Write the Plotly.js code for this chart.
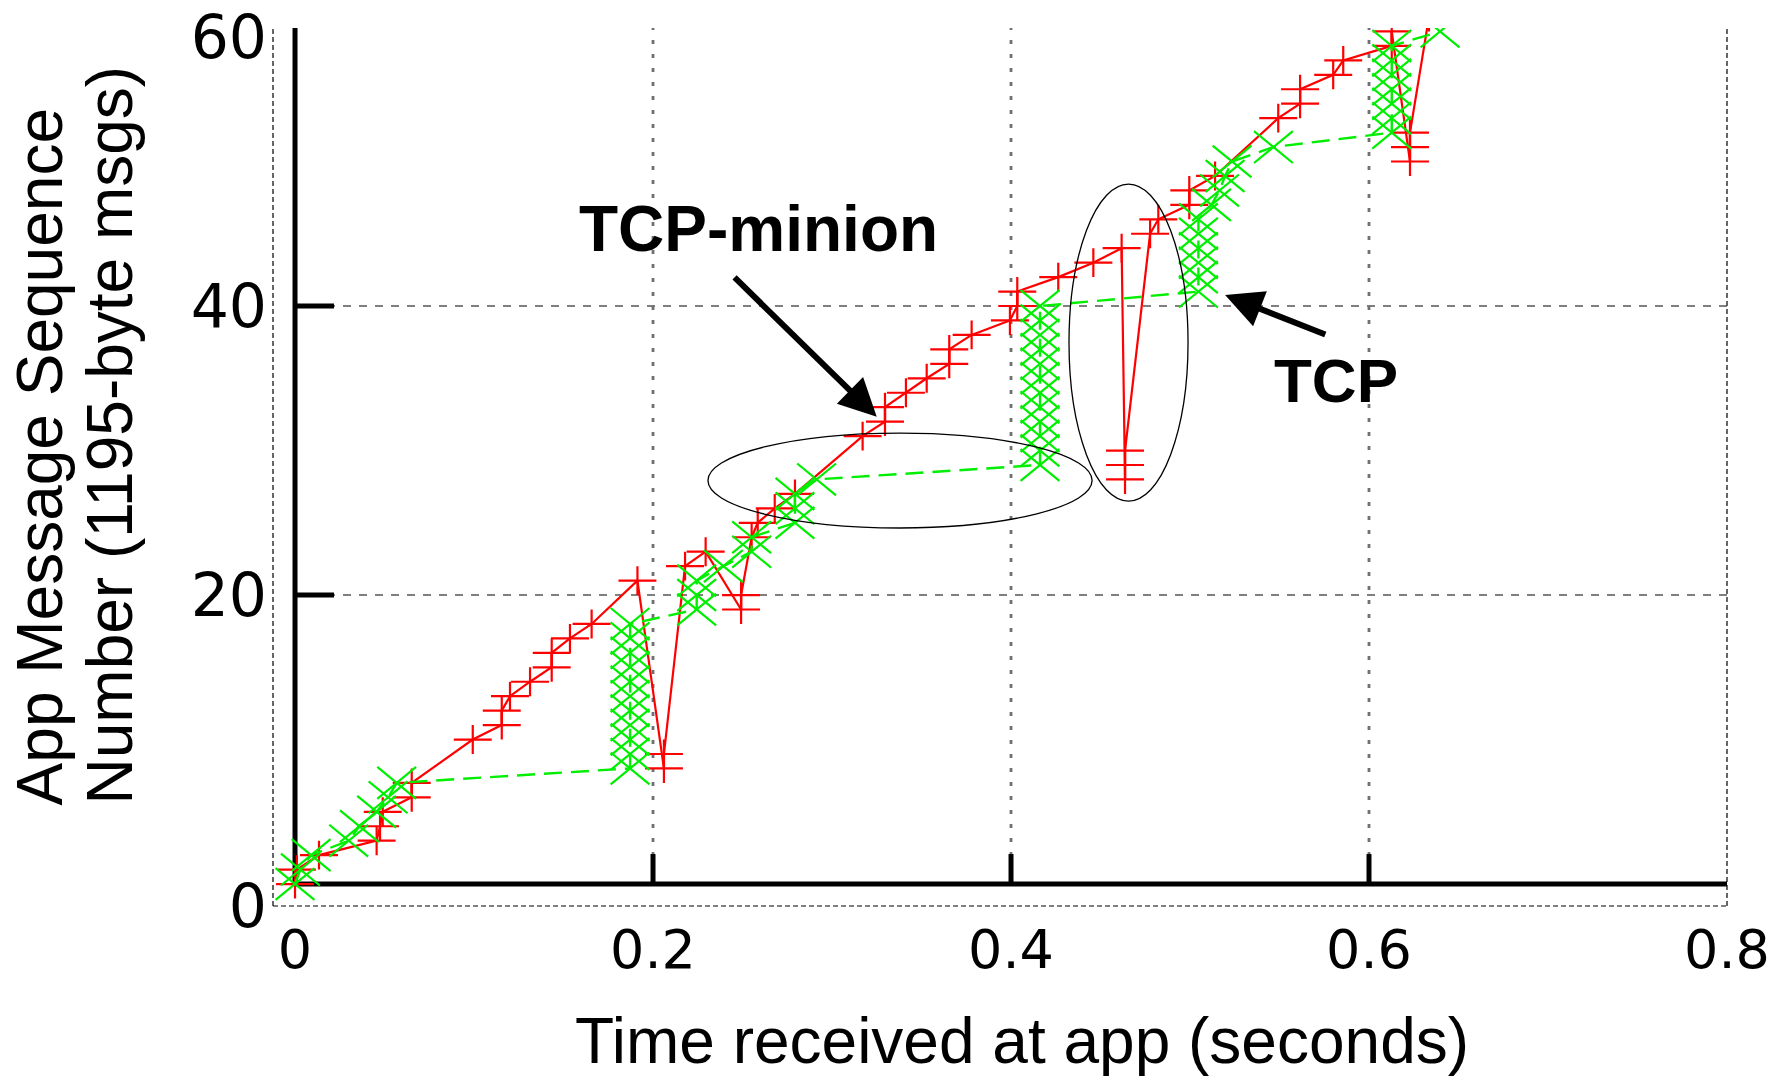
<!DOCTYPE html>
<html>
<head>
<meta charset="utf-8">
<script src="https://cdn.plot.ly/plotly-3.0.1.min.js"></script>
<style>
html,body{margin:0;padding:0;background:#fff;}
#chart{width:1782px;height:1078px;}
</style>
</head>
<body>
<div id="chart"></div>
<script>
// ---- data ----
// TCP-minion (red, +): time received at app (s) and message sequence number, in arrival order
const minionTime = [0.000, 0.001, 0.0134, 0.0456, 0.0475, 0.049, 0.0652, 0.0652, 0.0993, 0.1155, 0.1155, 0.1201, 0.1313, 0.1434, 0.1434, 0.1536, 0.1657, 0.1913, 0.2061, 0.2061, 0.2179, 0.2294, 0.2492, 0.2492, 0.2551, 0.2585, 0.268, 0.2793, 0.3171, 0.3296, 0.3296, 0.3413, 0.3529, 0.3655, 0.3655, 0.378, 0.3994, 0.4035, 0.4035, 0.4264, 0.446, 0.4618, 0.4637, 0.4637, 0.4637, 0.4777, 0.4823, 0.4996, 0.4996, 0.514, 0.5493, 0.5615, 0.5615, 0.58, 0.5856, 0.6127, 0.6127, 0.6229, 0.6229, 0.6229, 0.6335];
const minionSeq  = [0, 1, 2, 3, 4, 5, 6, 7, 10, 11, 12, 13, 14, 15, 16, 17, 18, 21, 8, 9, 22, 23, 19, 20, 24, 25, 26, 27, 31, 32, 33, 34, 35, 36, 37, 38, 39, 40, 41, 42, 43, 44, 28, 29, 30, 45, 46, 47, 48, 49, 53, 54, 55, 56, 57, 58, 59, 50, 51, 52, 60];

// TCP (green, x): time received at app (s) and message sequence number
const tcpTime = [0.000, 0.003, 0.009, 0.030, 0.036, 0.0456, 0.052, 0.0568,
  0.1872, 0.1872, 0.1872, 0.1872, 0.1872, 0.1872, 0.1872, 0.1872, 0.1872, 0.1872, 0.1872,
  0.2244, 0.2244, 0.2244, 0.2393, 0.2551, 0.2551, 0.2793, 0.2793, 0.2793, 0.2914,
  0.4162, 0.4162, 0.4162, 0.4162, 0.4162, 0.4162, 0.4162, 0.4162, 0.4162, 0.4162, 0.4162, 0.4162,
  0.5047, 0.5047, 0.5047, 0.5047, 0.5047, 0.5047, 0.512, 0.5165, 0.5196, 0.5235, 0.5466,
  0.6127, 0.6127, 0.6127, 0.6127, 0.6127, 0.6127, 0.6127, 0.6397];
const tcpSeq = [0, 1, 2, 3, 4, 5, 6, 7,
  8, 9, 10, 11, 12, 13, 14, 15, 16, 17, 18,
  19, 20, 21, 22, 23, 24, 25, 26, 27, 28,
  29, 30, 31, 32, 33, 34, 35, 36, 37, 38, 39, 40,
  41, 42, 43, 44, 45, 46, 47, 48, 49, 50, 51,
  52, 53, 54, 55, 56, 57, 58, 59];

// axes
const xTickVals   = [0, 0.2, 0.4, 0.6, 0.8];
const xTickLabels = ['0', '0.2', '0.4', '0.6', '0.8'];
const yTickLabels = ['0', '20', '40', '60'];
const xGridVals   = [0.2, 0.4, 0.6];
const yGridVals   = [20, 40];
const xRange = [-0.0123, 0.8];
const yRange = [-1.52, 59.24];

// annotation texts
const seriesNames = ['TCP-minion', 'TCP'];
const xTitle = 'Time received at app (seconds)';
const yTitleLines = ['App Message Sequence', 'Number (1195-byte msgs)'];

// ---- figure ----
const RED = '#ff0000';
const GREEN = '#00ee00';
const FONT = 'Liberation Sans, Arial, Helvetica, sans-serif';
const XTICKFONT = {family: 'DejaVu Sans, Liberation Sans, sans-serif', size: 54, color: '#000'};
const YTICKFONT = {family: 'DejaVu Sans, Liberation Sans, sans-serif', size: 60, color: '#000'};

const data = [
  {
    type: 'scatter', mode: 'lines+markers', name: seriesNames[0],
    x: minionTime, y: minionSeq,
    line: {color: RED, width: 2.2},
    marker: {symbol: 'cross-thin-open', size: 24, color: RED, line: {color: RED, width: 2.2}}
  },
  {
    type: 'scatter', mode: 'lines+markers', name: seriesNames[1],
    x: tcpTime, y: tcpSeq,
    line: {color: GREEN, width: 2.4, dash: '18px,9px'},
    marker: {symbol: 'x-thin-open', size: 35, color: GREEN, line: {color: GREEN, width: 2.2}}
  }
];

const shapes = [];
// dashed outer frame (left, bottom, right)
const frameLine = {color: '#000', width: 1.2, dash: '5px,3px'};
shapes.push({type: 'line', xref: 'paper', yref: 'paper', x0: 0, x1: 0, y0: 0, y1: 1, line: frameLine, layer: 'below'});
shapes.push({type: 'line', xref: 'paper', yref: 'paper', x0: 0, x1: 1, y0: 0, y1: 0, line: frameLine, layer: 'below'});
shapes.push({type: 'line', xref: 'paper', yref: 'paper', x0: 1, x1: 1, y0: 0, y1: 1, line: frameLine, layer: 'below'});
// grid
yGridVals.forEach(v => shapes.push({type: 'line', xref: 'x', yref: 'y', x0: 0, x1: xRange[1], y0: v, y1: v,
  line: {color: '#555', width: 1.6, dash: '8px,8px'}, layer: 'below'}));
xGridVals.forEach(v => shapes.push({type: 'line', xref: 'x', yref: 'y', x0: v, x1: v, y0: 0, y1: yRange[1],
  line: {color: '#707070', width: 2.8, dash: '4px,10px'}, layer: 'below'}));
// thick black axes through the origin
shapes.push({type: 'line', xref: 'x', yref: 'y', x0: 0, x1: 0, y0: 0, y1: yRange[1], line: {color: '#000', width: 5}, layer: 'below'});
shapes.push({type: 'line', xref: 'x', yref: 'y', x0: 0, x1: xRange[1], y0: 0, y1: 0, line: {color: '#000', width: 5}, layer: 'below'});
// tick marks
yGridVals.forEach(v => shapes.push({type: 'line', xref: 'x', yref: 'y', xsizemode: 'pixel', xanchor: 0, x0: 0, x1: 39, y0: v, y1: v,
  line: {color: '#000', width: 5}, layer: 'below'}));
xGridVals.forEach(v => shapes.push({type: 'line', xref: 'x', yref: 'y', ysizemode: 'pixel', yanchor: 0, y0: 0, y1: 30, x0: v, x1: v,
  line: {color: '#000', width: 5}, layer: 'below'}));
// highlight ellipses
shapes.push({type: 'circle', xref: 'x', yref: 'y', x0: 0.2307, x1: 0.4453, y0: 24.64, y1: 31.21, line: {color: '#000', width: 1.3}, layer: 'above'});
shapes.push({type: 'circle', xref: 'x', yref: 'y', x0: 0.4324, x1: 0.4989, y0: 26.5, y1: 48.44, line: {color: '#000', width: 1.3}, layer: 'above'});

const labelFont = {family: FONT, size: 64, color: '#000', weight: 700};
const annotations = [
  {xref: 'x', yref: 'y', x: 0.2587, y: 45.3, text: seriesNames[0], showarrow: false, font: labelFont, xanchor: 'center', yanchor: 'middle'},
  {xref: 'x', yref: 'y', x: 0.5816, y: 34.85, text: seriesNames[1], showarrow: false, font: {family: FONT, size: 62, color: '#000', weight: 700}, xanchor: 'center', yanchor: 'middle'},
  {xref: 'x', yref: 'y', x: 0.325, y: 32.34, text: '', showarrow: true, ax: -143.7, ay: -140.7,
   arrowhead: 2, arrowsize: 1.25, arrowwidth: 6, arrowcolor: '#000', standoff: 0},
  {xref: 'x', yref: 'y', x: 0.5196, y: 40.76, text: '', showarrow: true, ax: 101.7, ay: 40,
   arrowhead: 2, arrowsize: 1.25, arrowwidth: 6, arrowcolor: '#000', standoff: 0},
  {xref: 'paper', yref: 'paper', x: 0.5151, y: -0.1535, text: xTitle, showarrow: false,
   font: {family: FONT, size: 64, color: '#000'}, xanchor: 'center', yanchor: 'middle'},
  {xref: 'paper', yref: 'paper', x: -0.1596, y: 0.1128, text: yTitleLines[0], showarrow: false, textangle: -90,
   font: {family: FONT, size: 64, color: '#000'}, xanchor: 'center', yanchor: 'bottom'},
  {xref: 'paper', yref: 'paper', x: -0.1121, y: 0.1128, text: yTitleLines[1], showarrow: false, textangle: -90,
   font: {family: FONT, size: 64, color: '#000'}, xanchor: 'center', yanchor: 'bottom'}
];

const layout = {
  width: 1782, height: 1078,
  margin: {l: 273, r: 55, t: 28, b: 172, pad: 0},
  paper_bgcolor: '#ffffff', plot_bgcolor: '#ffffff',
  showlegend: false,
  font: {family: FONT, color: '#000'},
  xaxis: {range: xRange, tickmode: 'array', tickvals: xTickVals, ticktext: xTickLabels, ticklabeloverflow: 'allow',
          showgrid: false, zeroline: false, showline: false, ticks: '', ticklabelstandoff: 7, tickfont: XTICKFONT},
  yaxis: {range: yRange, tickmode: 'array', tickvals: [yRange[0] + 0.02, 20, 40, yRange[1] - 0.6], ticktext: yTickLabels, ticklabeloverflow: 'allow',
          showgrid: false, zeroline: false, showline: false, ticks: '', ticklabelstandoff: 5, tickfont: YTICKFONT},
  shapes: shapes,
  annotations: annotations
};

// markers in the reference are drawn slightly wider than tall
const markerStretch = [[1.13, 0.86], [1.11, 0.91]];

Plotly.newPlot('chart', data, layout, {staticPlot: true, displayModeBar: false}).then(gd => {
  gd.querySelectorAll('.scatterlayer .trace').forEach((tr, i) => {
    const s = markerStretch[i];
    if (!s) return;
    tr.querySelectorAll('path.point').forEach(p => {
      const t = p.getAttribute('transform') || '';
      p.setAttribute('transform', t + ' scale(' + s[0] + ',' + s[1] + ')');
      p.style.vectorEffect = 'non-scaling-stroke';
    });
  });
});
</script>
</body>
</html>
